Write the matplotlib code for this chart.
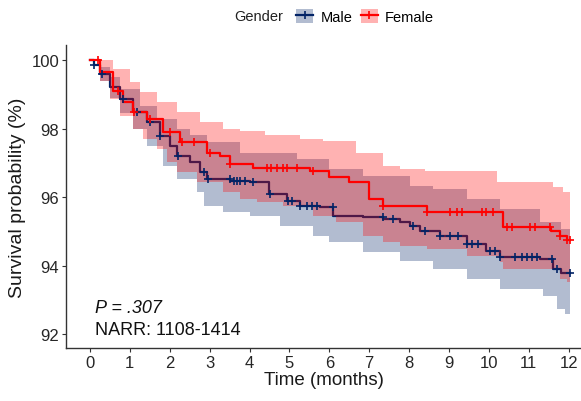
import numpy as np
import matplotlib
matplotlib.use("Agg")
import matplotlib.pyplot as plt
from matplotlib.patches import Patch
from matplotlib.lines import Line2D

plt.rcParams['font.family'] = ['Liberation Sans', 'DejaVu Sans']

end_t = 12.03

# Male: survival curve and confidence band (percent)
male_t = [0, 0.1, 0.25, 0.5, 0.75, 1.08, 1.42, 1.75, 2.0, 2.18, 2.5, 2.76, 2.93, 3.51, 4.0, 4.5,
          4.93, 5.26, 5.76, 6.1, 6.85, 7.35, 7.77, 8.02, 8.27, 8.77, 9.44, 9.94, 10.28, 11.28, 11.6, 11.8]
male_s = [100, 99.85, 99.6, 99.2, 98.86, 98.48, 98.19, 97.78, 97.5, 97.2, 97.03, 96.73, 96.53, 96.48, 96.43, 96.09,
          95.9, 95.75, 95.7, 95.46, 95.41, 95.36, 95.27, 95.17, 95.02, 94.88, 94.64, 94.44, 94.25, 94.2, 93.9, 93.79]
male_up_t = [0, 0.25, 0.5, 0.75, 1.25, 1.67, 2.18, 2.5, 2.93, 3.76, 5.18, 6.0, 6.85, 8.02, 8.6, 9.44, 10.28, 11.28, 11.8]
male_up = [100, 99.8, 99.5, 99.15, 98.67, 98.28, 97.99, 97.8, 97.6, 97.3, 97.1, 96.82, 96.63, 96.33, 96.24, 95.95, 95.66, 95.27, 95.07]
male_lo_t = [0, 0.25, 0.5, 0.75, 1.08, 1.42, 1.84, 2.18, 2.68, 2.85, 3.34, 4.0, 4.76, 5.6, 6.0, 6.85, 7.77, 8.6,
             9.44, 10.28, 11.36, 11.7, 11.9]
male_lo = [100, 99.4, 98.9, 98.45, 98.0, 97.5, 96.92, 96.53, 96.14, 95.75, 95.56, 95.46, 95.17, 94.88, 94.68, 94.39, 94.15, 93.9,
           93.62, 93.32, 93.13, 92.74, 92.6]
male_cens = [0.1, 0.3, 0.83, 1.17, 1.5, 1.75, 2.2, 2.85, 2.95, 3.5, 3.6, 3.68, 3.76, 3.88, 4.09, 4.51, 4.96, 5.06,
             5.26, 5.44, 5.56, 5.69, 6.09, 7.34, 7.59, 8.1, 8.4, 8.77, 9.02, 9.22, 9.44, 9.57, 9.72, 10.02, 10.15,
             10.28, 10.65, 10.83, 10.95, 11.08, 11.2, 11.58, 11.7, 12.03]

# Female
fem_t = [0, 0.25, 0.58, 0.83, 1.08, 1.42, 1.84, 2.26, 2.93, 3.26, 3.5, 4.1, 5.51, 6.0, 6.5, 7.0, 7.35, 8.44,
         10.36, 11.55, 11.78, 11.95]
fem_s = [100, 99.65, 99.1, 98.78, 98.48, 98.28, 97.9, 97.6, 97.3, 97.2, 96.97, 96.85, 96.77, 96.58, 96.43, 95.95, 95.75, 95.56,
         95.12, 95.0, 94.88, 94.76]
fem_up_t = [0, 0.58, 1.0, 1.25, 1.67, 2.18, 2.76, 3.34, 3.76, 4.4, 5.26, 5.85, 6.68, 7.35, 7.77, 8.4, 10.2, 11.6, 11.85]
fem_up = [100, 99.74, 99.36, 99.06, 98.77, 98.48, 98.18, 97.99, 97.94, 97.8, 97.7, 97.65, 97.3, 96.9, 96.82, 96.76, 96.43, 96.3, 96.14]
fem_lo_t = [0, 0.25, 0.5, 0.75, 1.08, 1.34, 1.67, 1.92, 2.18, 2.68, 3.34, 3.76, 4.18, 4.85, 5.6, 6.18, 6.85, 7.35,
            7.77, 8.44, 9.44, 10.28, 10.36, 11.78, 11.95]
fem_lo = [100, 99.4, 98.85, 98.38, 97.99, 97.7, 97.4, 97.02, 96.73, 96.43, 96.14, 95.95, 95.85, 95.75, 95.46, 95.27, 94.88, 94.68,
          94.59, 94.49, 94.29, 94.1, 93.9, 93.6, 93.52]
fem_cens = [0.2, 0.7, 1.1, 1.5, 2.0, 2.3, 2.6, 3.0, 3.5, 4.43, 4.55, 4.68, 4.85, 4.93, 5.18, 5.6, 7.35, 8.44, 9.02,
            9.19, 9.32, 9.82, 9.94, 10.1, 10.45, 10.58, 11.03, 11.15, 11.53, 11.78, 11.95, 12.03]

navy = '#022366'
red = '#FF0000'


def step_val(ts, vs, x):
    ts = np.asarray(ts)
    vs = np.asarray(vs)
    idx = np.searchsorted(ts, x, side='right') - 1
    return vs[np.clip(idx, 0, len(vs) - 1)]


def band(up_t, up, lo_t, lo):
    grid = np.unique(np.concatenate([up_t, lo_t, [end_t]]))
    return grid, step_val(up_t, up, grid), step_val(lo_t, lo, grid)


fig = plt.figure(figsize=(5.81, 4.02), dpi=100)
ax = fig.add_axes([0.1136, 0.1318, 0.8864, 0.7538])

g, u, l = band(male_up_t, male_up, male_lo_t, male_lo)
ax.fill_between(g, l, u, step='post', color=navy, alpha=0.3, lw=0, zorder=1)
mt = list(male_t) + [end_t]
ax.step(mt, list(male_s) + [male_s[-1]], where='post', color=navy, lw=1.6, zorder=2)

g, u, l = band(fem_up_t, fem_up, fem_lo_t, fem_lo)
ax.fill_between(g, l, u, step='post', color=red, alpha=0.3, lw=0, zorder=3)
ft = list(fem_t) + [end_t]
ax.step(ft, list(fem_s) + [fem_s[-1]], where='post', color=red, lw=1.6, zorder=4)

ax.plot(male_cens, step_val(male_t, male_s, male_cens), ls='none', marker='+', ms=6, mew=1.2,
        color=navy, zorder=5)
ax.plot(fem_cens, step_val(fem_t, fem_s, fem_cens), ls='none', marker='+', ms=6, mew=1.2,
        color=red, zorder=6)

ax.set_xlim(-0.6, 12.31)
ax.set_ylim(91.6, 100.44)
ax.set_xticks(range(0, 13))
ax.set_yticks([92, 94, 96, 98, 100])
for s in ['top', 'right']:
    ax.spines[s].set_visible(False)
for s in ['left', 'bottom']:
    ax.spines[s].set_color('#333333')
    ax.spines[s].set_linewidth(1.0)
ax.tick_params(length=3, width=0.8, color='#333333', labelsize=12, labelcolor='#262626', pad=2)
ax.set_xlabel('Time (months)', fontsize=13.5, color='#1a1a1a', labelpad=1)
ax.set_ylabel('Survival probability (%)', fontsize=14, color='#1a1a1a', labelpad=4)

ax.text(0.12, 92.65, 'P = .307', fontsize=13, style='italic', color='#111111')
ax.text(0.12, 92.0, 'NARR: 1108-1414', fontsize=13, color='#111111')

fig.text(0.403, 0.957, 'Gender', fontsize=10.5, color='#222222', ha='left', va='center')
handles = [(Patch(facecolor=navy, alpha=0.3, edgecolor='none'),
            Line2D([], [], color=navy, marker='+', ms=6, mew=1.2, lw=1.6)),
           (Patch(facecolor=red, alpha=0.3, edgecolor='none'),
            Line2D([], [], color=red, marker='+', ms=6, mew=1.2, lw=1.6))]
fig.legend(handles, ['Male', 'Female'], loc='center left', bbox_to_anchor=(0.51, 0.957), ncol=2,
           frameon=False, fontsize=10.5, handlelength=1.15, handleheight=1.15, handletextpad=0.5,
           columnspacing=0.6, borderaxespad=0, borderpad=0)

fig.savefig('out.png', dpi=100)
